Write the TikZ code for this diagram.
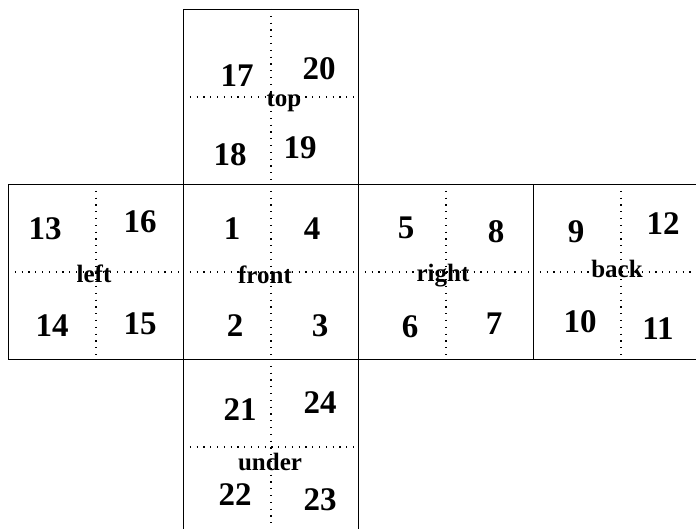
\documentclass[tikz,border=0pt]{standalone}
\usepackage{fontspec}
\setmainfont{Liberation Serif}
\begin{document}
\begin{tikzpicture}[x=1pt,y=-1pt,
  face/.style={draw=black,line width=0.9pt,minimum width=175pt,minimum height=175pt,inner sep=0pt,anchor=north west},
  mid/.style={line width=1.2pt,dash pattern=on 1.2pt off 5.6pt},
  num/.style={font=\fontsize{33}{33}\selectfont\bfseries,inner sep=0pt},
  lab/.style={font=\fontsize{25}{25}\selectfont\bfseries,inner sep=0pt}]
\useasboundingbox (0,0) rectangle (696,529);
\node[face] (top) at (183,9) {};
\node[face] (left) at (8,184) {};
\node[face] (front) at (183,184) {};
\node[face] (right) at (358,184) {};
\node[face] (back) at (533,184) {};
\node[face] (under) at (183,359) {};
\foreach \f in {top,left,front,right,back,under}{
  \draw[mid] (\f.north) -- (\f.south);
  \draw[mid] (\f.west) -- (\f.east);
}
% top
\node[num] (n17) at (237,76) {17};
\node[num] (n20) at (319,69) {20};
\node[num] (n18) at (230,155) {18};
\node[num] (n19) at (300,148) {19};
\node[lab] (ltop) at (284,102) {top};
% left
\node[num] (n13) at (45,229) {13};
\node[num] (n16) at (140,222) {16};
\node[num] (n14) at (52,326) {14};
\node[num] (n15) at (140,324) {15};
\node[lab] (lleft) at (94,274) {left};
% front
\node[num] (n1) at (232,229) {1};
\node[num] (n4) at (312,229) {4};
\node[num] (n2) at (235,326) {2};
\node[num] (n3) at (320,326) {3};
\node[lab] (lfront) at (265,275) {front};
% right
\node[num] (n5) at (406,228) {5};
\node[num] (n8) at (496,232) {8};
\node[num] (n6) at (410,327) {6};
\node[num] (n7) at (494,324) {7};
\node[lab] (lright) at (443,276) {right};
% back
\node[num] (n9) at (576,232) {9};
\node[num] (n12) at (663,224) {12};
\node[num] (n10) at (580,322) {10};
\node[num] (n11) at (658,329) {11};
\node[lab] (lback) at (617,269) {back};
% under
\node[num] (n21) at (240,410) {21};
\node[num] (n24) at (320,403) {24};
\node[num] (n22) at (235,495) {22};
\node[num] (n23) at (320,500) {23};
\node[lab] (lunder) at (270,462) {under};
\end{tikzpicture}
\end{document}
